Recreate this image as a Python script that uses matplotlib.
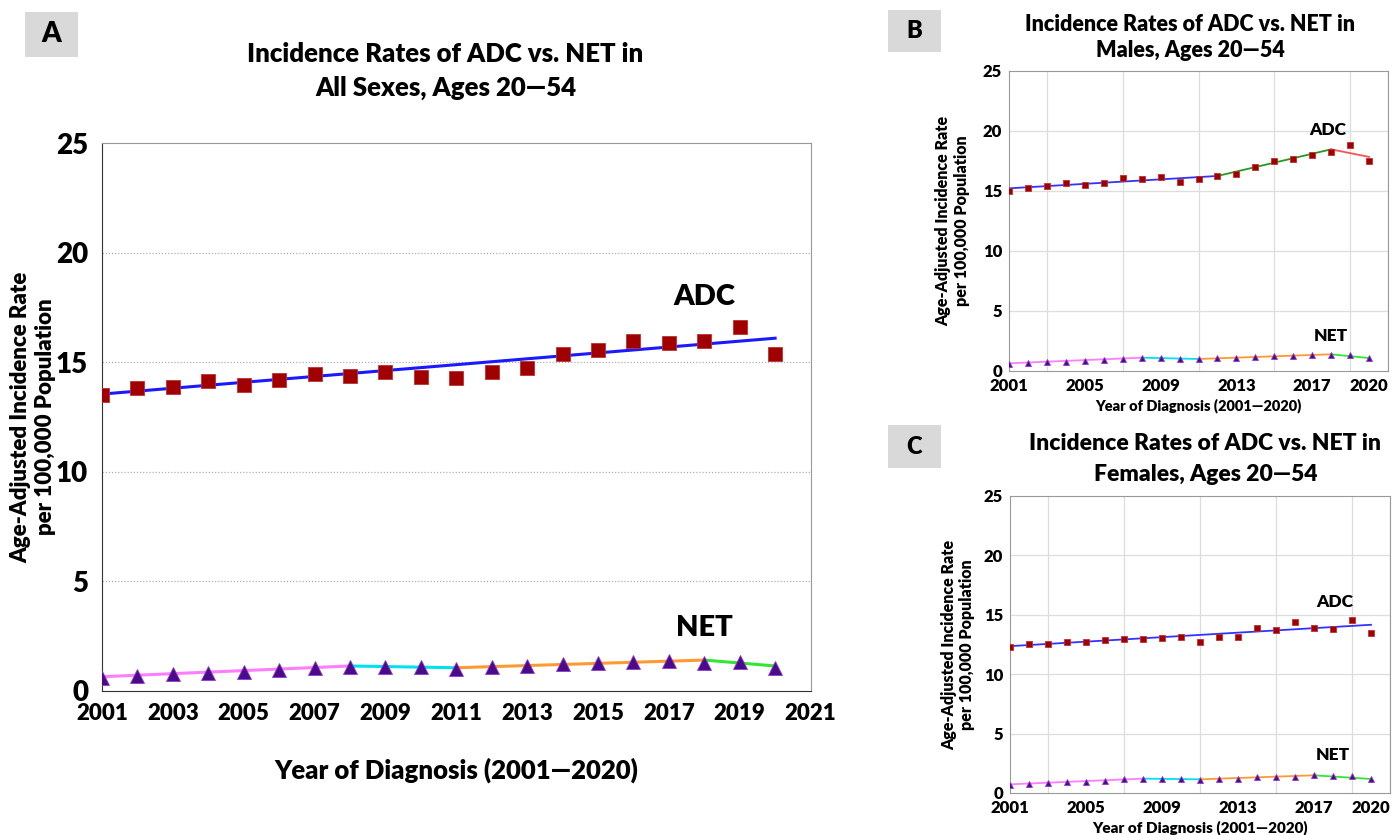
import matplotlib
matplotlib.use("Agg")
import matplotlib.pyplot as plt
from matplotlib.patches import Rectangle

W = 'heavy'
plt.rcParams['font.family'] = ['Lato', 'DejaVu Sans']
plt.rcParams['font.weight'] = W

years = list(range(2001, 2021))

# Panel A - all sexes
a_adc = [13.53, 13.82, 13.87, 14.13, 13.98, 14.19, 14.46, 14.37, 14.56, 14.31,
         14.28, 14.57, 14.72, 15.37, 15.58, 15.96, 15.89, 15.98, 16.62, 15.40]
a_net = [0.58, 0.67, 0.77, 0.82, 0.86, 0.95, 1.06, 1.10, 1.10, 1.08,
         1.00, 1.08, 1.15, 1.21, 1.29, 1.30, 1.36, 1.29, 1.33, 1.03]
a_adc_fit_x = [2001, 2020]
a_adc_fit_y = [13.55, 16.10]
a_net_fit_x = [2001, 2008, 2011, 2018, 2020]
a_net_fit_y = [0.65, 1.14, 1.06, 1.41, 1.14]

# Panel B - males
b_adc = [15.00, 15.22, 15.39, 15.67, 15.47, 15.67, 16.08, 16.00, 16.19, 15.72,
         16.03, 16.25, 16.44, 16.97, 17.53, 17.64, 17.97, 18.25, 18.86, 17.50]
b_net = [0.58, 0.64, 0.75, 0.78, 0.83, 0.92, 1.00, 1.08, 1.08, 1.00,
         1.00, 1.06, 1.11, 1.14, 1.25, 1.25, 1.31, 1.31, 1.33, 1.06]
b_adc_fit_x = [2001, 2012, 2018, 2020]
b_adc_fit_y = [15.22, 16.25, 18.47, 17.84]
b_net_fit_x = [2001, 2008, 2011, 2018, 2020]
b_net_fit_y = [0.64, 1.11, 1.00, 1.39, 1.08]

# Panel C - females
c_adc = [12.30, 12.58, 12.56, 12.72, 12.70, 12.89, 12.98, 12.95, 13.06, 13.09,
         12.75, 13.09, 13.17, 13.85, 13.74, 14.41, 13.90, 13.82, 14.52, 13.48]
c_net = [0.65, 0.79, 0.84, 0.90, 0.93, 1.04, 1.15, 1.18, 1.21, 1.21,
         1.12, 1.15, 1.21, 1.35, 1.35, 1.35, 1.49, 1.40, 1.40, 1.21]
c_adc_fit_x = [2001, 2020]
c_adc_fit_y = [12.36, 14.16]
c_net_fit_x = [2001, 2008, 2011, 2017, 2020]
c_net_fit_y = [0.73, 1.21, 1.15, 1.49, 1.18]

title_a = "Incidence Rates of ADC vs. NET in\nAll Sexes, Ages 20\u201454"
title_b = "Incidence Rates of ADC vs. NET in\nMales, Ages 20\u201454"
title_c = "Incidence Rates of ADC vs. NET in\nFemales, Ages 20\u201454"
ylab = "Age-Adjusted Incidence Rate\nper 100,000 Population"
xlab = "Year of Diagnosis (2001\u20142020)"

NET_COLORS = ['#ff7dff', '#00e1f0', '#ff9a33', '#33e633']


def draw_fit(ax, xs, ys, colors, lw):
    for i in range(len(xs) - 1):
        ax.plot(xs[i:i + 2], ys[i:i + 2], color=colors[i], lw=lw, zorder=3)


def panel(ax, adc, net, adc_fx, adc_fy, adc_cols, net_fx, net_fy,
          big, xticks, gridstyle):
    ax.set_xlim(2001, 2021)
    ax.set_ylim(0, 25)
    ax.set_yticks([0, 5, 10, 15, 20, 25])
    ax.set_xticks(xticks)
    ax.set_xticks(range(2001, 2022, 2), minor=True)
    ax.grid(False, which='major')
    ax.grid(True, which='minor', axis='x', **gridstyle)
    for yv in [5, 10, 15, 20]:
        ax.axhline(yv, zorder=0, **gridstyle)
    ax.tick_params(which='both', length=0)
    ms = 9.5 if big else 4.5
    lw = 2.2 if big else 1.3
    draw_fit(ax, adc_fx, adc_fy, adc_cols, lw)
    draw_fit(ax, net_fx, net_fy, NET_COLORS, lw)
    ax.plot(years, adc, 's', color='#a00000', mec='#c03030', mew=0.6,
            ms=ms, zorder=4)
    ax.plot(years, net, '^', color='#4b0a8c', mec='#8a3cc8', mew=0.6,
            ms=ms, zorder=4)
    for s in ax.spines.values():
        s.set_color('#999999')
    if big:
        ax.spines['left'].set_color('#333333')
        ax.spines['bottom'].set_color('#333333')


fig = plt.figure(figsize=(13.92, 8.35), dpi=100)

# ---- A ----
axA = fig.add_axes([0.0733, 0.1725, 0.509, 0.656])
panel(axA, a_adc, a_net, a_adc_fit_x, a_adc_fit_y, ['#1a1aff'],
      a_net_fit_x, a_net_fit_y, True, range(2001, 2022, 2),
      dict(color='#b0b0b0', ls=(0, (1, 1.5)), lw=0.9))
axA.tick_params(axis='y', labelsize=20, pad=10)
axA.tick_params(axis='x', labelsize=16, pad=9)
axA.set_ylabel(ylab, fontsize=16, fontweight=W, labelpad=0)
axA.set_xlabel(xlab, fontsize=18.5, fontweight=W, labelpad=24)
axA.text(2018.0, 18.0, "ADC", fontsize=21, fontweight=W,
         ha='center', va='center')
axA.text(2018.0, 2.86, "NET", fontsize=21, fontweight=W,
         ha='center', va='center')
fig.text(0.32, 0.915, title_a, fontsize=18.5, fontweight=W,
         ha='center', va='center', linespacing=1.45)
fig.add_artist(Rectangle((0.018, 0.932), 0.038, 0.054, transform=fig.transFigure,
                         facecolor='#d9d9d9', edgecolor='none'))
fig.text(0.037, 0.959, "A", fontsize=20, fontweight=W, ha='center', va='center')

small_grid = dict(color='#dddddd', ls='-', lw=0.9)
small_ticks = [2001, 2005, 2009, 2013, 2017, 2020]

# ---- B ----
axB = fig.add_axes([0.7249, 0.5557, 0.2722, 0.3593])
panel(axB, b_adc, b_net, b_adc_fit_x, b_adc_fit_y,
      ['#3333ff', '#229922', '#ff5050'], b_net_fit_x, b_net_fit_y,
      False, small_ticks, small_grid)
axB.tick_params(labelsize=12, pad=5)
axB.set_ylabel(ylab, fontsize=11.5, fontweight=W, labelpad=9)
axB.set_xlabel(xlab, fontsize=10.5, fontweight=W, labelpad=3)
axB.text(2017.8, 20.1, "ADC", fontsize=12.5, fontweight=W, ha='center', va='center')
axB.text(2018.0, 2.9, "NET", fontsize=12.5, fontweight=W, ha='center', va='center')
fig.text(0.855, 0.955, title_b, fontsize=15.5, fontweight=W,
         ha='center', va='center', linespacing=1.25)
fig.add_artist(Rectangle((0.638, 0.938), 0.038, 0.05, transform=fig.transFigure,
                         facecolor='#d9d9d9', edgecolor='none'))
fig.text(0.657, 0.963, "B", fontsize=17, fontweight=W, ha='center', va='center')

# ---- C ----
axC = fig.add_axes([0.7256, 0.0503, 0.273, 0.3557])
panel(axC, c_adc, c_net, c_adc_fit_x, c_adc_fit_y, ['#3333ff'],
      c_net_fit_x, c_net_fit_y, False, small_ticks, small_grid)
axC.tick_params(labelsize=12, pad=5)
axC.set_ylabel(ylab, fontsize=11.5, fontweight=W, labelpad=6)
axC.set_xlabel(xlab, fontsize=11, fontweight=W, labelpad=3)
axC.text(2018.1, 16.1, "ADC", fontsize=12.5, fontweight=W, ha='center', va='center')
axC.text(2018.0, 3.2, "NET", fontsize=12.5, fontweight=W, ha='center', va='center')
fig.text(0.866, 0.45, title_c, fontsize=16.5, fontweight=W,
         ha='center', va='center', linespacing=1.6)
fig.add_artist(Rectangle((0.638, 0.4395), 0.038, 0.052, transform=fig.transFigure,
                         facecolor='#d9d9d9', edgecolor='none'))
fig.text(0.657, 0.4647, "C", fontsize=17, fontweight=W, ha='center', va='center')

fig.savefig("out.png", dpi=100)
